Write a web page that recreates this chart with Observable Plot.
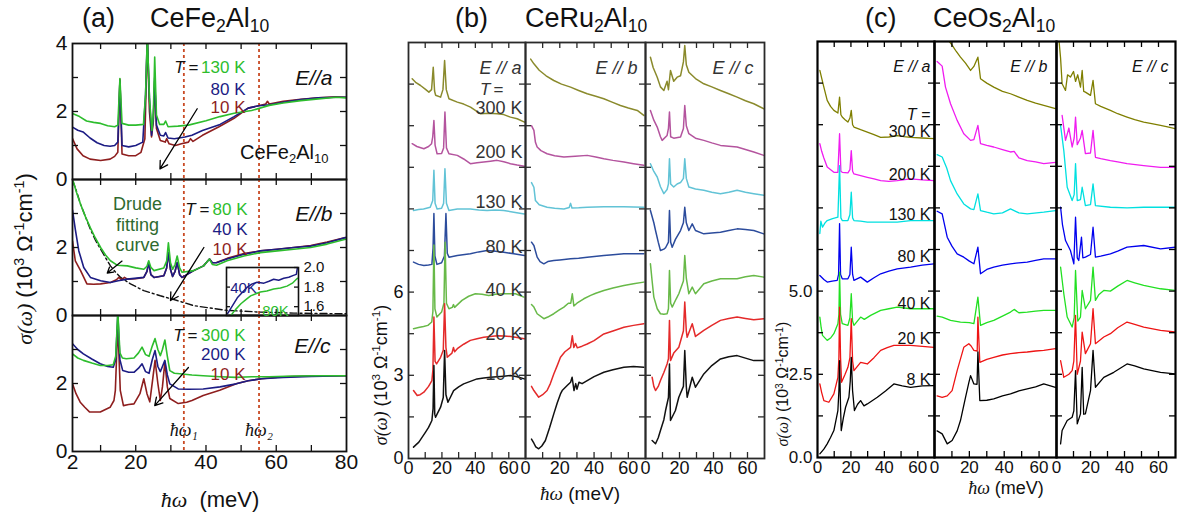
<!DOCTYPE html>
<html><head><meta charset="utf-8">
<script src="https://cdn.jsdelivr.net/npm/d3@7"></script>
<script src="https://cdn.jsdelivr.net/npm/@observablehq/plot@0.6"></script>
<style>
body{margin:0;background:#fff;}
#root{position:relative;width:1179px;height:519px;overflow:hidden;background:#fff;font-family:"Liberation Sans",Arial,sans-serif;color:#111;}
.abs{position:absolute;white-space:nowrap;line-height:1;}
.ser{font-family:"Liberation Serif","DejaVu Serif",serif;font-style:italic;}
.sub{font-size:0.65em;vertical-align:-0.3em;}
.sup{font-size:0.65em;vertical-align:0.55em;}
</style></head><body><div id="root"></div>
<script>
// ---------------- DATA ----------------
// Panel (a) CeFe2Al10
const omega = [33.7, 55.1];
const omegaLabels = ["ħω₁", "ħω₂"];
const aTempsA = ["130 K", "80 K", "10 K"];
const aTempsB = ["80 K", "40 K", "10 K"];
const aTempsC = ["300 K", "200 K", "10 K"];
const fe_a_130 = [[2,1.94],[4,1.85],[6,1.72],[8,1.68],[10,1.65],[12,1.58],[14,1.55],[14.9,1.6],[15.5,2.97],[16.1,1.65],[18,1.6],[20,1.6],[22.2,1.62],[22.8,2.5],[23.3,4.2],[23.9,2.4],[24.6,1.44],[25.0,1.9],[25.4,3.6],[25.9,1.9],[26.8,1.62],[28.0,1.62],[28.5,1.72],[29.2,1.55],[32,1.57],[35,1.6],[40,1.73],[44,1.85],[48,1.95],[53,2.03],[58,2.18],[62,2.25],[67,2.32],[72,2.37],[77,2.42],[80,2.4]];
const fe_a_80 = [[2,1.54],[3.5,1.45],[5,1.4],[7,1.22],[9,1.08],[11,1.0],[12.7,0.98],[14,1.0],[14.9,1.1],[15.5,2.9],[16.1,1.0],[18,0.96],[20,1.0],[22,1.1],[22.8,2.5],[23.3,4.2],[23.9,2.4],[24.5,1.3],[25,1.8],[25.4,3.0],[25.9,1.6],[27,1.3],[28,1.28],[28.5,1.38],[29.2,1.22],[31,1.2],[34,1.25],[36,1.3],[39,1.44],[44,1.62],[48,1.85],[52,2.1],[55,2.17],[58,2.2],[62,2.27],[67,2.35],[72,2.4],[77,2.42],[80,2.42]];
const fe_a_10 = [[2,1.2],[3.3,0.9],[5,0.7],[7,0.6],[10,0.56],[12.7,0.6],[14,0.68],[14.9,0.8],[15.5,2.95],[16.1,0.75],[18,0.7],[20,0.7],[21.5,0.8],[22.6,1.2],[23.3,4.2],[23.9,2.0],[24.5,1.25],[25,1.7],[25.4,2.9],[25.9,1.5],[27,1.15],[28.4,1.1],[28.8,1.2],[29.5,1.05],[31.3,1.0],[33,1.05],[35,1.1],[35.6,1.2],[36.3,1.12],[39,1.3],[43.7,1.55],[48,1.8],[52,2.1],[55,2.17],[57,2.22],[57.5,2.3],[58,2.22],[62,2.3],[67,2.36],[72,2.4],[77,2.43],[80,2.42]];
const fe_b_80 = [[2.2,3.95],[3.2,3.6],[4.3,3.27],[5.7,2.9],[7.1,2.58],[8.5,2.28],[10,2.0],[11.4,1.78],[12.8,1.61],[14.7,1.48],[17.6,1.46],[20,1.4],[22.3,1.36],[23.2,1.45],[23.7,1.61],[24.3,1.42],[25.2,1.32],[28,1.4],[28.8,1.6],[29.3,2.14],[29.9,1.55],[30.5,1.36],[31.2,1.5],[31.8,1.75],[32.5,1.4],[33.2,1.27],[36.5,1.32],[39.3,1.46],[40.3,1.58],[41,1.66],[41.8,1.5],[43,1.48],[46,1.61],[50.8,1.75],[55.5,1.85],[60.3,1.9],[65,1.95],[69.8,2.0],[74.5,2.1],[79.7,2.24]];
const fe_b_40 = [[2,3.1],[2.8,2.53],[3.8,1.9],[5.2,1.41],[7.1,1.12],[10,1.02],[12.8,0.97],[15,1.02],[17.6,1.07],[22.3,1.12],[23.2,1.3],[23.7,1.56],[24.3,1.2],[25.2,1.12],[28,1.17],[28.8,1.4],[29.3,1.85],[29.9,1.35],[30.5,1.15],[31.2,1.3],[31.8,1.56],[32.5,1.2],[33.2,1.12],[36.5,1.32],[39.3,1.46],[40.3,1.58],[41,1.66],[41.8,1.55],[43,1.55],[46,1.66],[50.8,1.8],[55.5,1.9],[60.3,1.95],[65,2.0],[69.8,2.04],[74.5,2.14],[79.7,2.29]];
const fe_b_10 = [[2,2.19],[2.8,1.61],[4.3,1.32],[6.1,0.93],[8,0.92],[10,0.93],[12.8,0.97],[14.5,1.05],[15.2,1.12],[16,1.05],[16.8,1.12],[17.6,1.07],[20,1.08],[22.3,1.12],[23.2,1.3],[23.7,1.56],[24.3,1.2],[25.2,1.12],[28,1.17],[28.8,1.4],[29.3,1.85],[29.9,1.35],[30.5,1.15],[31.2,1.3],[31.8,1.56],[32.5,1.2],[33.2,1.12],[36.5,1.32],[39.3,1.46],[40.3,1.58],[41,1.66],[41.8,1.55],[43,1.56],[46,1.68],[50.8,1.82],[55.5,1.9],[60.3,1.95],[65,2.0],[69.8,2.06],[74.5,2.16],[79.7,2.29]];
const drude = [[2,3.98],[3,3.7],[4.3,3.27],[5.7,2.9],[7.1,2.53],[8.5,2.22],[10,1.95],[11.4,1.7],[12.8,1.46],[14.2,1.28],[15.7,1.12],[18.5,0.93],[22.3,0.73],[27,0.58],[31.8,0.44],[36.5,0.29],[41.2,0.22],[46,0.15],[55.5,0.1],[65,0.07],[80,0.05]];
const inset_40 = [[46.3,1.53],[47.5,1.6],[49,1.69],[50.5,1.75],[51.8,1.8],[53,1.83],[54.5,1.85],[56.4,1.84],[57.8,1.86],[59.1,1.88],[60.5,1.87],[61.9,1.89],[63.3,1.9],[64.6,1.92],[65.4,1.93],[65.7,2.0]];
const inset_80 = [[47.2,1.51],[48.5,1.57],[50,1.63],[51.3,1.67],[52.7,1.71],[54,1.73],[55.4,1.75],[57.2,1.76],[59.1,1.78],[61,1.79],[62.8,1.81],[64.3,1.84],[65.7,1.89]];
const fe_c_300 = [[2,2.87],[3.5,2.75],[5.1,2.68],[7.5,2.6],[9.9,2.53],[12,2.53],[13.6,2.55],[14.3,2.8],[14.9,4.1],[15.5,2.9],[16.2,2.75],[17.3,2.73],[19.5,2.75],[20.8,2.9],[21.8,3.07],[22.8,2.85],[23.8,2.8],[24.7,3.1],[25.5,3.32],[26.3,3.0],[27,2.82],[27.6,3.0],[28.3,3.28],[29.0,2.8],[29.7,2.38],[31,2.3],[33.3,2.28],[36,2.25],[39.2,2.23],[44,2.2],[48.6,2.18],[53,2.2],[58,2.2],[65,2.22],[72,2.23],[80,2.23]];
const fe_c_200 = [[2,3.17],[3.5,3.0],[5.1,2.87],[7.5,2.72],[9.9,2.58],[12,2.5],[13.6,2.48],[14.3,2.7],[14.9,4.05],[15.5,2.7],[16.3,2.38],[18,2.33],[19.5,2.33],[20.8,2.45],[21.8,2.58],[22.8,2.35],[23.8,2.3],[24.7,2.7],[25.5,2.97],[26.3,2.5],[27,2.35],[27.6,2.5],[28.3,2.68],[29.0,2.25],[29.7,1.99],[32.1,1.84],[35,1.83],[39.2,1.84],[44,1.9],[48.6,1.99],[52,2.08],[55.8,2.14],[62,2.18],[70,2.21],[80,2.23]];
const fe_c_10 = [[2,1.99],[3,1.7],[4.2,1.45],[5.5,1.3],[6.9,1.16],[9.9,1.16],[12.7,1.3],[13.8,1.5],[14.2,1.8],[14.9,3.76],[15.6,1.8],[16.5,1.35],[18,1.38],[19.5,1.4],[21.2,1.7],[22.3,2.14],[23.2,1.7],[24,1.46],[24.8,2.1],[25.5,2.68],[26.3,2.0],[27,1.5],[27.6,1.9],[28.3,2.63],[29.0,1.9],[29.7,1.56],[32.1,1.41],[34.5,1.45],[36,1.5],[39.2,1.65],[43.9,1.8],[48.6,1.99],[52,2.08],[55.8,2.14],[62,2.2],[70,2.22],[80,2.23]];
const arrows_a = [[37.5,2.08,26.9,0.31]];
const arrows_b = [[16.1,1.6,11.9,1.25],[39.4,2.0,29.9,0.44]];
const arrows_c = [[35,2.47,25.4,1.35]];

// Panel (b) CeRu2Al10
const tempsB = ["300 K","200 K","130 K","80 K","40 K","20 K","10 K"];
const ru_a_300 = [[2.2,13.69],[4.5,13.55],[7.2,13.45],[10,13.32],[12.2,13.21],[13.8,13.3],[14.8,14.11],[15.6,13.25],[16.2,13.1],[19.2,13.03],[20.6,13.3],[21.6,14.35],[22.6,13.3],[24.2,12.97],[29.2,12.85],[33,12.78],[37.1,12.67],[43.1,12.43],[48,12.45],[53.1,12.43],[57,12.4],[61,12.31],[65,12.25],[69.4,12.13]];
const ru_a_200 = [[2.2,11.35],[5,11.25],[9.2,11.17],[12,11.25],[13.8,11.35],[14.5,11.6],[15.2,12.19],[15.9,11.3],[17.1,10.99],[19.8,11.0],[21,11.2],[21.8,12.49],[22.7,11.2],[24.2,10.99],[29.2,10.93],[33,10.8],[37,10.63],[41,10.66],[45,10.69],[49,10.72],[53,10.75],[57,10.7],[61,10.63],[65,10.58],[69.3,10.54]];
const ru_a_130 = [[3,8.94],[6,8.98],[9,9.0],[13,9.06],[14.5,9.3],[15.2,10.39],[15.9,9.2],[17.1,9.0],[19.8,9.02],[21,9.2],[21.8,10.45],[22.7,9.2],[24.2,8.94],[29.2,9.0],[37,9.0],[42,8.96],[47,8.94],[52,8.96],[57,8.94],[63,8.88],[69.3,8.82]];
const ru_a_80 = [[3,7.08],[6,7.0],[9.2,6.96],[12,6.98],[14,7.0],[14.7,7.6],[15.2,8.83],[15.8,7.3],[17,7.0],[19.8,7.06],[21.5,7.3],[22.4,8.83],[23.2,7.4],[24.2,7.26],[29.2,7.32],[37,7.38],[42,7.45],[47,7.5],[52,7.47],[57,7.44],[63,7.38],[69.3,7.32]];
const ru_a_40 = [[3,4.68],[6,4.72],[9,4.76],[11.6,4.8],[13.9,4.92],[14.6,5.3],[15.2,7.7],[15.8,5.4],[17,5.1],[19.8,5.28],[21.2,5.6],[21.9,7.8],[22.7,5.6],[24.2,5.4],[26.2,5.45],[26.9,5.55],[27.6,5.45],[32,5.7],[36,5.85],[40,5.94],[44,5.92],[48,5.88],[52,5.92],[56,5.94],[60,5.94],[64,5.94],[69,5.82]];
const ru_a_20 = [[3,2.45],[5.2,2.27],[7,2.3],[9.2,2.39],[12,2.6],[14,2.81],[14.6,3.2],[15.2,5.1],[15.9,3.5],[16.8,3.41],[19.2,3.65],[20.8,3.9],[21.6,5.58],[22.4,4.0],[23.2,3.65],[26,3.8],[26.9,4.0],[27.6,3.85],[29.2,3.96],[33,4.12],[37,4.26],[41,4.32],[45,4.37],[49,4.4],[53,4.43],[57,4.42],[61,4.4],[65,4.36],[69.3,4.32]];
const ru_a_10 = [[3,0.41],[6.2,0.59],[8,0.75],[10.2,0.95],[12,1.12],[14,1.37],[14.7,1.8],[15.2,3.35],[15.7,1.6],[16.2,1.49],[19.2,1.85],[20.8,2.2],[21.6,3.89],[22.4,2.3],[23.6,2.03],[25,2.2],[27,2.45],[30,2.58],[33,2.69],[37,2.78],[41,2.87],[45,2.9],[49,2.93],[53,2.95],[57,2.97],[61,2.99],[65,2.95],[69.3,2.87]];
const ru_b_300 = [[3,14.4],[4.9,14.23],[8,14.0],[12,13.8],[16.5,13.63],[21,13.5],[26.3,13.39],[31,13.27],[36,13.15],[41,13.06],[45.7,12.97],[50.5,12.85],[55.4,12.73],[60,12.64],[65.2,12.55],[69,12.37]];
const ru_b_200 = [[3.5,12.0],[4.9,11.83],[5.8,11.4],[6.8,11.23],[9,11.1],[12.6,10.99],[17,10.92],[22.4,10.87],[29,10.9],[36,10.93],[41,10.87],[45.7,10.81],[51,10.75],[57.4,10.69],[63,10.63],[69,10.57]];
const ru_b_130 = [[3.5,9.95],[4.9,9.78],[5.8,9.3],[8,9.15],[12.6,9.06],[17,9.02],[22.4,9.0],[25.5,9.05],[26.3,9.2],[27.1,9.03],[31,9.04],[36,9.06],[45.7,9.08],[57.4,9.08],[69,9.06]];
const ru_b_80 = [[3.5,7.8],[4.9,7.68],[6.8,7.26],[8.5,7.1],[10.7,7.02],[13,7.1],[16.5,7.14],[20,7.16],[26.3,7.2],[31,7.22],[36,7.26],[45.7,7.32],[51,7.35],[57.4,7.38],[63,7.38],[69,7.38]];
const ru_b_40 = [[3.5,5.55],[4.9,5.46],[6.8,5.22],[10.7,5.04],[13,5.1],[16.5,5.22],[19.5,5.35],[22.4,5.46],[25,5.6],[26.4,5.6],[27.3,5.94],[28.2,5.5],[30,5.6],[34,5.76],[38,5.88],[41,5.96],[45.7,6.06],[51,6.15],[57.4,6.24],[63,6.3],[69,6.36]];
const ru_b_20 = [[3.5,2.6],[4.9,2.45],[7.7,2.21],[10,2.3],[12.6,2.45],[14.5,2.7],[16.5,3.05],[18.5,3.35],[20.4,3.65],[23,3.85],[26.3,4.01],[27.3,4.43],[28.2,4.0],[29.2,4.15],[30.2,3.99],[33,4.05],[36,4.13],[40,4.25],[45.7,4.49],[51,4.6],[57.4,4.73],[63,4.8],[69,4.86]];
const ru_b_10 = [[3.5,0.7],[4.9,0.55],[6,0.42],[7.7,0.35],[9.5,0.45],[11.6,0.65],[14,1.1],[16.5,1.61],[18.5,2.0],[20.4,2.33],[21.4,2.45],[24.3,2.63],[26.3,2.75],[27.2,2.93],[28.3,2.45],[29.3,2.7],[30,2.5],[31.2,2.75],[33,2.7],[36,2.81],[40,2.95],[45.7,3.11],[51,3.2],[57.4,3.29],[63,3.32],[69,3.29]];
const ru_c_300 = [[2.9,14.47],[4.5,14.1],[6.9,13.75],[8.8,13.4],[10.8,13.27],[12.7,13.6],[13.5,13.3],[14.7,13.99],[16.6,13.6],[18.6,13.75],[20.6,13.8],[22.3,14.3],[23.1,14.89],[24,14.2],[25.5,13.93],[29.4,13.7],[34.3,13.51],[39,13.4],[44.1,13.27],[49,13.15],[53.9,13.03],[58.8,12.9],[63.7,12.79],[69.6,12.61]];
const ru_c_200 = [[2.9,12.55],[4.9,12.2],[6.9,11.95],[8.8,11.6],[9.8,11.47],[12.7,11.65],[13.5,11.9],[14.1,12.49],[14.8,11.6],[16.6,11.55],[20.6,11.59],[22.3,11.9],[23.1,12.73],[24,12.0],[25.5,11.71],[29.4,11.55],[34.3,11.47],[39,11.38],[44.1,11.29],[49,11.26],[53.9,11.23],[58.8,11.14],[63.7,11.05],[69.6,10.93]];
const ru_c_130 = [[2.9,10.63],[4.9,10.35],[6.9,10.15],[8.8,9.8],[10.8,9.55],[12.7,9.7],[13.5,9.9],[14.1,10.81],[14.8,9.9],[16.6,9.79],[18.6,9.9],[20.6,9.95],[22.3,10.1],[23.1,10.81],[24,10.1],[25.5,9.79],[29.4,9.72],[34.3,9.67],[39,9.6],[44.1,9.55],[49,9.6],[53.9,9.67],[58.8,9.6],[63.7,9.55],[69.6,9.49]];
const ru_c_80 = [[2.9,8.94],[4.9,8.5],[5.9,8.22],[7.5,7.8],[8.8,7.5],[10.8,7.55],[11.8,7.6],[13.5,7.8],[14.1,8.94],[14.8,7.8],[15.7,7.62],[17.6,7.9],[20.6,8.22],[22.3,8.5],[23.1,9.06],[24,8.5],[25.5,8.22],[27.5,8.46],[29.4,8.22],[34.3,8.1],[39,8.13],[44.1,8.16],[49,8.22],[53.9,8.28],[58.8,8.26],[63.7,8.22],[69.6,8.1]];
const ru_c_40 = [[2.9,7.02],[3.9,6.4],[4.9,5.82],[6.9,5.4],[8.8,5.22],[10.8,5.2],[12.7,5.22],[13.5,5.4],[14.1,6.78],[14.8,5.6],[15.7,5.46],[18,5.75],[19.6,5.94],[22.3,6.4],[23.1,7.32],[24,6.5],[25.5,5.94],[27.5,6.18],[29.4,5.94],[34.3,6.3],[39,6.4],[44.1,6.48],[49,6.48],[53.9,6.48],[58.8,6.55],[63.7,6.6],[69.6,6.54]];
const ru_c_20 = [[3.9,2.93],[4.9,2.6],[5.9,2.45],[7.5,2.6],[8.8,2.81],[10.8,3.1],[12.7,3.41],[13.5,3.6],[14.1,4.98],[14.7,3.53],[16.6,3.8],[19.6,4.01],[22.3,4.6],[23.1,5.64],[24,4.6],[24.5,4.37],[27.5,4.86],[29.4,4.4],[34.3,4.62],[39,4.8],[44.1,4.98],[49,5.05],[53.9,5.1],[58.8,5.05],[63.7,5.0],[69.6,5.04]];
const ru_c_10 = [[3.9,0.65],[5.9,0.53],[7.5,0.75],[8.8,1.01],[10.8,1.4],[11.8,1.73],[13.5,2.2],[14.1,3.41],[14.7,1.37],[17.6,1.73],[19.6,2.21],[22.3,2.6],[23.1,3.89],[24,2.6],[24.5,2.21],[27.5,2.93],[29.4,2.57],[34.3,3.05],[39,3.35],[44.1,3.59],[49,3.67],[53.9,3.71],[58.8,3.62],[63.7,3.53],[69.6,3.53]];

// Panel (c) CeOs2Al10
const tempsC = ["300 K","200 K","130 K","80 K","40 K","20 K","8 K"];
const os_a_300 = [[1.4,11.63],[2.5,11.4],[3.8,11.13],[5.8,10.73],[7.8,10.55],[9.8,10.43],[12.2,10.35],[13.2,10.83],[14,10.3],[14.8,10.23],[16.5,10.15],[18.2,10.08],[19.4,10.2],[20.2,10.43],[21,10.0],[21.8,9.93],[25.8,9.85],[29.8,9.78],[33.8,9.7],[37.8,9.62],[42.7,9.63],[47.7,9.67],[51.7,9.64],[55.7,9.62],[62.7,9.6],[69.7,9.58]];
const os_a_200 = [[1.4,9.43],[2.5,9.2],[3.8,9.0],[5.8,8.73],[9.8,8.57],[12.2,8.57],[13.2,9.73],[14,8.6],[14.8,8.57],[18.2,8.55],[19.4,8.65],[20.2,9.22],[21,8.6],[21.8,8.52],[25.8,8.47],[29.8,8.42],[33.8,8.37],[37.8,8.32],[42.7,8.3],[47.7,8.32],[55.7,8.37],[62.7,8.34],[69.7,8.32]];
const os_a_130 = [[1.4,6.73],[2,7.1],[3,6.92],[4.5,7.05],[5.8,7.12],[9,7.18],[12.2,7.22],[13.2,8.77],[14,7.2],[14.8,7.12],[18.2,7.12],[19.4,7.3],[20.2,7.97],[21,7.2],[21.8,7.12],[25.8,7.1],[29.8,7.07],[37.8,7.07],[47.7,7.07],[55.7,7.12],[62.7,7.12],[69.7,7.12]];
const os_a_80 = [[1.4,5.47],[3.8,5.35],[5.8,5.27],[8.8,5.3],[11.8,5.32],[12.6,5.5],[13.2,7.03],[13.8,5.5],[14.8,5.37],[18.2,5.37],[19.4,5.5],[20.2,6.32],[21,5.5],[21.8,5.32],[25.8,5.42],[29.8,5.27],[33.8,5.4],[37.8,5.52],[42.7,5.6],[47.7,5.67],[55.7,5.72],[62.7,5.78],[69.7,5.82]];
const os_a_40 = [[1.4,4.22],[2.2,3.9],[3,3.67],[5.8,3.52],[8,3.6],[9.8,3.72],[12.2,4.02],[12.8,4.3],[13.2,5.57],[13.8,4.3],[14.8,4.02],[18.2,3.97],[19.4,4.2],[20.2,4.92],[21,4.1],[21.8,3.97],[25.8,4.22],[28,4.15],[31.8,4.27],[37.8,4.42],[42.7,4.47],[47.7,4.52],[55.7,4.47],[62.7,4.47],[69.7,4.47]];
const os_a_20 = [[1.4,2.21],[2.5,1.95],[3.8,1.71],[6.8,1.66],[9.8,1.91],[12.2,2.41],[12.8,3.0],[13.2,4.52],[13.8,3.0],[14.4,2.26],[16.5,2.5],[18.2,2.71],[19.4,3.0],[20.2,4.17],[21,2.9],[21.8,2.61],[25.8,2.86],[29.8,2.81],[33.8,3.0],[37.8,3.22],[41.7,3.3],[45.7,3.37],[55.7,3.37],[62.7,3.34],[69.7,3.31]];
const os_a_8 = [[1.4,0.11],[3.8,0.25],[5.8,0.41],[7.8,0.6],[9.8,0.81],[12.2,1.41],[12.8,2.0],[13.2,2.91],[13.8,1.5],[14.2,0.81],[15.5,1.2],[16.8,1.51],[18.8,1.81],[19.6,2.3],[20.2,3.01],[21,2.0],[22.1,1.41],[24,1.6],[25.8,1.71],[27.8,1.55],[29.8,1.61],[35.8,1.81],[40.7,2.0],[45.7,2.21],[50.7,2.15],[55.7,2.11],[62.7,2.15],[69.7,2.16]];
const os_b_300 = [[1.5,13.2],[4.4,12.73],[7,12.6],[10,12.4],[12.5,12.2],[14.9,12.03],[17.8,11.85],[20.7,11.63],[22.6,11.75],[24.9,12.03],[26.4,11.38],[30,11.25],[34,11.13],[39,11.0],[43.6,10.93],[48.4,10.83],[53.2,10.73],[58,10.65],[62.7,10.58],[69.4,10.48]];
const os_b_200 = [[1.5,11.9],[4.4,11.76],[6.3,11.13],[9.2,10.63],[13,10.13],[16.8,9.73],[20.7,9.53],[22.6,9.55],[24.9,9.98],[26.4,9.43],[30,9.38],[34,9.33],[39,9.25],[43.6,9.18],[45.7,9.2],[48.4,9.0],[53.2,8.92],[58,8.88],[62.7,8.83],[69.4,8.87]];
const os_b_130 = [[1.5,9.1],[4.4,9.03],[7,8.7],[9.2,8.32],[13,7.92],[16.8,7.62],[20.7,7.47],[22.6,7.45],[24.9,7.92],[26.4,7.42],[30,7.37],[34,7.32],[39,7.35],[43.6,7.47],[48.4,7.35],[53.2,7.32],[62.7,7.37],[69.4,7.42]];
const os_b_80 = [[1.5,7.4],[4.4,7.32],[7.3,6.62],[10,6.35],[13,6.12],[16.8,6.02],[20,5.9],[22.6,5.82],[24.9,6.32],[26.4,5.52],[30,5.65],[34,5.72],[39,5.78],[43.6,5.82],[48.4,5.85],[53.2,5.87],[58,5.92],[62.7,5.97],[69.4,5.97]];
const os_b_40 = [[1.5,4.25],[4.4,4.22],[9.2,4.12],[14.9,4.07],[20,4.05],[22.6,4.02],[24.9,4.82],[26.4,3.97],[30,4.05],[34,4.12],[39,4.25],[43.6,4.37],[45.7,4.45],[48.4,4.35],[53.2,4.37],[58,4.4],[62.7,4.42],[69.4,4.42]];
const os_b_20 = [[1.5,1.85],[4.4,1.81],[7.3,1.85],[10.1,2.01],[13,2.61],[16.8,3.31],[19.7,3.42],[21,3.35],[22.6,3.22],[24.5,3.2],[24.9,4.22],[26,2.86],[30,2.95],[34,3.01],[39,3.08],[43.6,3.12],[48.4,3.15],[53.2,3.17],[58,3.2],[62.7,3.22],[69.4,3.27]];
const os_b_8 = [[1.5,0.8],[4.4,0.71],[7.3,0.41],[10.1,0.51],[13,0.8],[14.9,1.11],[17.8,1.81],[19.7,2.25],[20.7,2.46],[22.6,2.21],[24.4,2.2],[24.9,3.17],[26,1.71],[30,1.72],[34,1.76],[39,1.85],[43.6,1.91],[48.4,2.0],[53.2,2.06],[58,2.12],[62.7,2.21],[69.4,2.11]];
const os_c_300 = [[1,12.8],[2.4,12.0],[3.3,11.23],[5.3,11.03],[6.5,11.5],[8.2,11.43],[10,11.6],[11.2,11.3],[12.5,11.5],[14.1,11.13],[15.1,11.63],[16,11.0],[17,10.98],[20,10.88],[21.5,11.33],[22.9,10.63],[26,10.55],[31.7,10.43],[36,10.33],[41.5,10.23],[46,10.15],[51.3,10.08],[56,10.03],[61.2,9.98],[66,9.93],[70,9.88]];
const os_c_200 = [[3.3,10.28],[5.3,9.53],[7.3,9.9],[9.2,9.33],[10.4,9.6],[11.2,10.23],[12.2,9.4],[14.1,9.6],[15.1,9.83],[17,9.13],[20,9.15],[21.5,9.83],[22.9,9.02],[26,8.98],[31.7,8.92],[36,8.88],[41.5,8.83],[51.3,8.77],[61.2,8.72],[70,8.72]];
const os_c_130 = [[2.4,9.98],[4.3,9.22],[6.3,8.12],[9.2,7.72],[10.4,7.9],[11.2,8.83],[12.2,7.72],[14.1,7.75],[15.1,8.12],[17,7.57],[20,7.6],[21.5,8.22],[22.9,7.57],[31.7,7.52],[41.5,7.5],[51.3,7.52],[61.2,7.52],[70,7.52]];
const os_c_80 = [[2.4,7.52],[3.5,7.0],[5.3,6.52],[8.2,6.22],[10.2,5.82],[11.2,7.22],[12.2,6.0],[13.1,5.92],[14.7,6.62],[15.5,6.0],[17,6.02],[20,6.1],[21.5,6.92],[22.9,6.02],[26,6.05],[31.7,6.12],[36,6.2],[41.5,6.32],[51.3,6.37],[61.2,6.27],[70,6.32]];
const os_c_40 = [[2.4,5.72],[4.3,4.92],[6.3,4.22],[9.2,3.92],[10.4,4.2],[11.2,5.62],[12.5,4.1],[14.1,4.22],[15.1,5.02],[17,4.47],[20,4.72],[21.5,5.72],[22.9,4.72],[25,4.9],[27.8,5.02],[31.7,5.0],[36,5.15],[41.5,5.32],[46,5.25],[51.3,5.17],[61.2,5.07],[70,5.02]];
const os_c_20 = [[2.4,2.91],[4.3,2.41],[7.3,2.5],[9.2,2.61],[10.2,2.9],[11.2,4.27],[12.2,2.5],[14.1,2.9],[15.1,3.77],[17,3.12],[20,3.42],[21.5,4.47],[22.9,3.42],[27.8,3.62],[31.7,3.72],[36,3.9],[41.5,4.07],[46,4.0],[51.3,3.92],[61.2,3.82],[70,3.77]];
const os_c_8 = [[2.4,0.41],[3.3,0.81],[6.3,1.11],[9.2,1.21],[10.2,1.4],[11.2,2.61],[12.2,1.01],[14.1,1.31],[15.1,2.71],[16,1.3],[17,1.31],[20,2.01],[21.5,3.22],[22.9,2.11],[27.8,2.41],[33.7,2.56],[41.5,2.81],[46,2.75],[51.3,2.66],[61.2,2.56],[70,2.51]];

// tick values & labels
const aXTicks = [10,20,30,40,50,60,70];
const aXLabels = [2,20,40,60,80];
const aYTicks = [1,2,3];
const bcXTicks = [10,20,30,40,50,60];
const bcXLabels = [0,20,40,60];
const bYTicks = [1.5,3,4.5,6,7.5,9,10.5,12,13.5];
const bYLabels = [0,3,6];
const cYTicks = [1.25,2.5,3.75,5,6.25,7.5,8.75,10,11.25];
const cYLabels = [0,2.5,5];
const insetYTicks = [1.6,1.8,2.0];

// ---------------- COLOURS ----------------
const A = {green: "#2dbd2d", navy: "#1c1c84", red: "#8e1e1e", drude: "#2f6a2f", omega: "#c94a24"};
const B = ["#8a8a2c", "#b4549e", "#62c3d6", "#2c4c9c", "#68b948", "#e42a2a", "#111111"];
const C = ["#7f7f00", "#f01cf0", "#00e0e0", "#0000ee", "#22e022", "#ee1414", "#000000"];

// ---------------- HELPERS ----------------
const root = document.getElementById("root");
const M = 40;
const FONT = "'Liberation Sans', Arial, sans-serif";
const SERIF = "'Liberation Serif', 'DejaVu Serif', serif";

function txt(t, dx, dy, o = {}) {
  return Plot.text([t], {
    text: d => d, frameAnchor: "top-left", dx, dy,
    textAnchor: o.a || "end", fill: o.c || "#222", fontSize: o.s || 17,
    fontStyle: o.i ? "italic" : "normal", fontFamily: o.f || FONT
  });
}

function subplot(cfg) {
  const {left, top, width, height, xd, yd, xTicks = [], yTicks = [], xLabels, yLabels, yFormat,
    series = [], before = [], extra = [], fs = 18, frame = "#111", fw = 1.6, tick = 6, yAnchor = "left", lw = 1.4} = cfg;
  const marks = [...before];
  for (const [data, color] of series) {
    marks.push(Plot.line(data, {x: d => d[0], y: d => d[1], stroke: color, strokeWidth: lw, clip: true}));
  }
  marks.push(
    Plot.tickX(xTicks, {x: d => d, insetTop: height - tick, stroke: frame, strokeWidth: 1.3}),
    Plot.tickX(xTicks, {x: d => d, insetBottom: height - tick, stroke: frame, strokeWidth: 1.3}),
    Plot.tickY(yTicks, {y: d => d, insetRight: width - tick, stroke: frame, strokeWidth: 1.3}),
    Plot.tickY(yTicks, {y: d => d, insetLeft: width - tick, stroke: frame, strokeWidth: 1.3}),
    Plot.frame({stroke: frame, strokeWidth: fw}),
    ...extra
  );
  if (xLabels) marks.push(Plot.axisX(xLabels, {tickSize: 0, tickPadding: 3, label: null, fontSize: fs, fill: "#111"}));
  if (yLabels) marks.push(Plot.axisY(yLabels, {anchor: yAnchor, tickSize: 0, tickPadding: 5, label: null, fontSize: fs, fill: "#111", tickFormat: yFormat}));
  const svg = Plot.plot({
    width: width + 2 * M, height: height + 2 * M, margin: M,
    x: {domain: xd, label: null, axis: xLabels ? undefined : null},
    y: {domain: yd, label: null, axis: yLabels ? undefined : null},
    style: {background: "transparent", overflow: "visible", fontFamily: FONT, fontSize: fs + "px", color: "#111"},
    marks
  });
  svg.style.position = "absolute";
  svg.style.left = (left - M) + "px";
  svg.style.top = (top - M) + "px";
  root.appendChild(svg);
}

function html(h, css) {
  const d = document.createElement("div");
  d.className = "abs";
  d.innerHTML = h;
  Object.assign(d.style, css);
  root.appendChild(d);
}

const arrowMark = (data) => Plot.arrow(data, {x1: d => d[0], y1: d => d[1], x2: d => d[2], y2: d => d[3], stroke: "#000", strokeWidth: 1.3, headLength: 10});
const omegaRule = Plot.ruleX(omega, {x: d => d, stroke: A.omega, strokeWidth: 1.8, strokeDasharray: "3,3"});

// ---------------- PANEL (a) ----------------
const aW = 274, aL = 72;
subplot({left: aL, top: 43, width: aW, height: 136, xd: [2, 80], yd: [0, 4], xTicks: aXTicks, yTicks: aYTicks,
  yLabels: [0, 2, 4], fs: 21, fw: 1.8, lw: 1.6, before: [omegaRule],
  series: [[fe_a_10, A.red], [fe_a_80, A.navy], [fe_a_130, A.green]],
  extra: [arrowMark(arrows_a),
    txt("T", 107, 17, {a: "middle", i: true, c: "#111"}),
    txt("=", 121, 17, {a: "middle", c: "#111"}),
    txt(aTempsA[0], 173, 17, {c: A.green}),
    txt(aTempsA[1], 173, 39, {c: A.navy}),
    txt(aTempsA[2], 173, 57, {c: A.red}),
    txt("E//a", 260, 27, {i: true, s: 21, c: "#111"})]
});
subplot({left: aL, top: 179, width: aW, height: 136, xd: [2, 80], yd: [0, 4], xTicks: aXTicks, yTicks: aYTicks,
  yLabels: [0, 2], fs: 21, fw: 1.8, lw: 1.6, before: [omegaRule,
    Plot.line(drude, {x: d => d[0], y: d => d[1], stroke: "#111", strokeWidth: 1.4, strokeDasharray: "7,3,2,3", clip: true})],
  series: [[fe_b_10, A.red], [fe_b_40, A.navy], [fe_b_80, A.green]],
  extra: [arrowMark(arrows_b),
    txt("Drude", 65, 18, {a: "middle", c: A.drude, s: 18}),
    txt("fitting", 65, 39, {a: "middle", c: A.drude, s: 18}),
    txt("curve", 65, 59, {a: "middle", c: A.drude, s: 18}),
    txt("T", 118, 23, {a: "middle", i: true, c: "#111"}),
    txt("=", 132, 23, {a: "middle", c: "#111"}),
    txt(aTempsB[0], 175, 23, {c: A.green}),
    txt(aTempsB[1], 175, 43, {c: A.navy}),
    txt(aTempsB[2], 175, 63, {c: A.red}),
    txt("E//b", 260, 27, {i: true, s: 21, c: "#111"})]
});
subplot({left: aL, top: 315, width: aW, height: 136, xd: [2, 80], yd: [0, 4], xTicks: aXTicks, yTicks: aYTicks,
  xLabels: aXLabels, yLabels: [0, 2], fs: 21, fw: 1.8, lw: 1.6, before: [omegaRule],
  series: [[fe_c_10, A.red], [fe_c_200, A.navy], [fe_c_300, A.green]],
  extra: [arrowMark(arrows_c),
    Plot.text(omega, {x: d => d, frameAnchor: "bottom", dy: -16, text: (d, i) => omegaLabels[i], fontSize: 18, fontStyle: "italic", fontFamily: SERIF, fill: "#111"}),
    txt("T", 106, 13, {a: "middle", i: true, c: "#111"}),
    txt("=", 120, 13, {a: "middle", c: "#111"}),
    txt(aTempsC[0], 173, 13, {c: A.green}),
    txt(aTempsC[1], 173, 32, {c: A.navy}),
    txt(aTempsC[2], 173, 52, {c: A.red}),
    txt("E//c", 258, 23, {i: true, s: 21, c: "#111"})]
});
// inset
subplot({left: 226, top: 267, width: 72, height: 48, xd: [46, 66], yd: [1.51, 2.0], xTicks: [], yTicks: insetYTicks,
  yLabels: insetYTicks, yAnchor: "right", yFormat: ".1f", fs: 15, fw: 1.6, tick: 4, lw: 1.5,
  series: [[inset_80, A.green], [inset_40, A.navy]],
  extra: [txt("40K", 17, 15, {a: "middle", c: A.navy, s: 15}), txt("80K", 49, 38, {a: "middle", c: A.green, s: 15})]
});

// ---------------- PANEL (b) ----------------
const bTop = 42, bH = 416;
const bSeries = (arr) => arr.map((d, i) => [d, B[i]]);
subplot({left: 408, top: bTop, width: 117, height: bH, xd: [0, 70], yd: [0, 15], xTicks: bcXTicks, yTicks: bYTicks,
  xLabels: bcXLabels, yLabels: bYLabels, fs: 18, frame: "#2a2a2a", fw: 1.8, lw: 1.5,
  series: bSeries([ru_a_300, ru_a_200, ru_a_130, ru_a_80, ru_a_40, ru_a_20, ru_a_10]),
  extra: [txt("E // a", 113, 19, {i: true, s: 18, c: "#333"}),
    txt("T", 82, 40, {i: true, s: 17, c: "#333"}), txt("=", 95, 40, {s: 17, c: "#333"}),
    ...tempsB.map((t, i) => txt(t, 114, [59, 103, 153, 198, 241, 285, 325][i], {s: 18, c: "#333"}))]
});
subplot({left: 525, top: bTop, width: 120, height: bH, xd: [0, 70], yd: [0, 15], xTicks: bcXTicks, yTicks: bYTicks,
  xLabels: bcXLabels, fs: 18, frame: "#2a2a2a", fw: 1.8, lw: 1.5,
  series: bSeries([ru_b_300, ru_b_200, ru_b_130, ru_b_80, ru_b_40, ru_b_20, ru_b_10]),
  extra: [txt("E // b", 112, 19, {i: true, s: 18, c: "#333"})]
});
subplot({left: 645, top: bTop, width: 119, height: bH, xd: [0, 70], yd: [0, 15], xTicks: bcXTicks, yTicks: bYTicks,
  xLabels: bcXLabels, fs: 18, frame: "#2a2a2a", fw: 1.8, lw: 1.5,
  series: bSeries([ru_c_300, ru_c_200, ru_c_130, ru_c_80, ru_c_40, ru_c_20, ru_c_10]),
  extra: [txt("E // c", 108, 19, {i: true, s: 18, c: "#333"})]
});

// ---------------- PANEL (c) ----------------
const cTop = 41, cH = 416;
const cSeries = (arr) => arr.map((d, i) => [d, C[i]]);
subplot({left: 817, top: cTop, width: 117, height: cH, xd: [0, 70], yd: [0, 12.5], xTicks: bcXTicks, yTicks: cYTicks,
  xLabels: bcXLabels, yLabels: cYLabels, yFormat: ".1f", fs: 17, frame: "#000", fw: 2.2, lw: 1.3,
  series: cSeries([os_a_300, os_a_200, os_a_130, os_a_80, os_a_40, os_a_20, os_a_8]),
  extra: [txt("E // a", 113, 19, {i: true, s: 16, c: "#111"}),
    txt("T", 99, 67, {i: true, s: 16, c: "#111"}), txt("=", 113, 67, {s: 16, c: "#111"}),
    ...tempsC.map((t, i) => txt(t, 113, [84, 127, 167, 209, 256, 291, 332][i], {s: 16, c: "#111"}))]
});
subplot({left: 934, top: cTop, width: 122, height: cH, xd: [0, 70], yd: [0, 12.5], xTicks: bcXTicks, yTicks: cYTicks,
  xLabels: bcXLabels, fs: 17, frame: "#000", fw: 2.2, lw: 1.3,
  series: cSeries([os_b_300, os_b_200, os_b_130, os_b_80, os_b_40, os_b_20, os_b_8]),
  extra: [txt("E // b", 113, 19, {i: true, s: 16, c: "#111"})]
});
subplot({left: 1056, top: cTop, width: 119, height: cH, xd: [0, 70], yd: [0, 12.5], xTicks: bcXTicks, yTicks: cYTicks,
  xLabels: bcXLabels, fs: 17, frame: "#000", fw: 2.2, lw: 1.3,
  series: cSeries([os_c_300, os_c_200, os_c_130, os_c_80, os_c_40, os_c_20, os_c_8]),
  extra: [txt("E // c", 112, 19, {i: true, s: 16, c: "#111"})]
});

// ---------------- TEXT (titles, axis titles) ----------------
const sig = '<span class="ser">σ(ω)</span> (10<span class="sup">3</span> Ω<span class="sup">-1</span>cm<span class="sup">-1</span>)';
const hw = '<span class="ser">ħω</span>';
html("(a)", {left: "82px", top: "5px", fontSize: "27px"});
html('CeFe<span class="sub">2</span>Al<span class="sub">10</span>', {left: "150px", top: "5px", fontSize: "27px"});
html("(b)", {left: "455px", top: "5px", fontSize: "27px"});
html('CeRu<span class="sub">2</span>Al<span class="sub">10</span>', {left: "525px", top: "5px", fontSize: "27px"});
html("(c)", {left: "865px", top: "5px", fontSize: "27px"});
html('CeOs<span class="sub">2</span>Al<span class="sub">10</span>', {left: "933px", top: "5px", fontSize: "27px"});
html('CeFe<span class="sub">2</span>Al<span class="sub">10</span>', {left: "240px", top: "142px", fontSize: "20px"});
html(sig, {left: "24px", top: "259px", fontSize: "22px", transform: "translate(-50%,-50%) rotate(-90deg)"});
html(sig, {left: "380px", top: "375px", fontSize: "18px", transform: "translate(-50%,-50%) rotate(-90deg)"});
html(sig, {left: "783px", top: "384px", fontSize: "16px", transform: "translate(-50%,-50%) rotate(-90deg)"});
html(hw + "&nbsp;&nbsp;(meV)", {left: "210px", top: "489px", fontSize: "22px", transform: "translateX(-50%)"});
html(hw + "&nbsp;(meV)", {left: "580px", top: "484px", fontSize: "19px", transform: "translateX(-50%)"});
html(hw + "&nbsp;(meV)", {left: "1006px", top: "479px", fontSize: "18px", transform: "translateX(-50%)"});
</script></body></html>
